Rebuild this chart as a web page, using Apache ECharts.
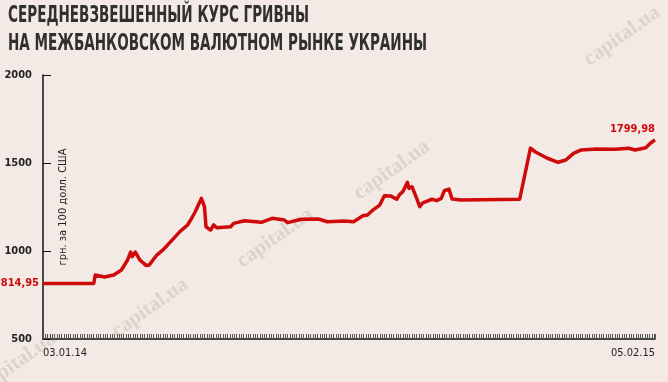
<!DOCTYPE html>
<html>
<head>
<meta charset="utf-8">
<script src="https://cdn.jsdelivr.net/npm/echarts@6/dist/echarts.min.js"></script>
<style>
html,body{margin:0;padding:0;background:#f3eae5;}
#c{width:668px;height:382px;}
</style>
</head>
<body>
<div id="c"></div>
<script>
const titleLines = ['СЕРЕДНЕВЗВЕШЕННЫЙ КУРС ГРИВНЫ', 'НА МЕЖБАНКОВСКОМ ВАЛЮТНОМ РЫНКЕ УКРАИНЫ'];
const yAxisName = 'грн. за 100 долл. США';
const xTickLabels = ['03.01.14', '05.02.15'];
const yTicks = [500, 1000, 1500, 2000];
const pointLabels = ['814,95', '1799,98'];
const dates = [
 '2014-01-03','2014-02-05','2014-02-06','2014-02-12','2014-02-18','2014-02-23','2014-02-27','2014-03-01','2014-03-02','2014-03-04',
 '2014-03-07','2014-03-11','2014-03-13','2014-03-18','2014-03-22','2014-03-29','2014-04-02','2014-04-07','2014-04-09','2014-04-12',
 '2014-04-14','2014-04-16','2014-04-18','2014-04-19','2014-04-22','2014-04-24','2014-04-26','2014-05-05','2014-05-07','2014-05-14',
 '2014-05-25','2014-06-01','2014-06-09','2014-06-11','2014-06-20','2014-07-01','2014-07-07','2014-07-18','2014-07-24','2014-07-30',
 '2014-08-02','2014-08-05','2014-08-10','2014-08-13','2014-08-17','2014-08-21','2014-08-23','2014-08-25','2014-08-28','2014-08-29',
 '2014-08-31','2014-09-03','2014-09-05','2014-09-07','2014-09-13','2014-09-16','2014-09-19','2014-09-21','2014-09-24','2014-09-26',
 '2014-10-02','2014-11-09','2014-11-16','2014-11-19','2014-11-27','2014-12-04','2014-12-09','2014-12-14','2014-12-19','2014-12-29',
 '2014-12-30','2015-01-10','2015-01-19','2015-01-23','2015-01-30','2015-02-02','2015-02-05'
];
const values = [
 814.95, 815, 864, 852, 864, 892, 949, 994, 968, 994,
 949, 918, 920, 977, 1006, 1072, 1110, 1148, 1176, 1223,
 1261, 1299, 1252, 1138, 1119, 1148, 1132, 1138, 1157, 1172,
 1163, 1186, 1176, 1161, 1180, 1182, 1166, 1170, 1166, 1200,
 1205, 1229, 1261, 1314, 1313, 1294, 1322, 1337, 1390, 1356,
 1365, 1299, 1252, 1274, 1294, 1286, 1299, 1343, 1352, 1295,
 1290, 1294, 1584, 1564, 1527, 1504, 1517, 1555, 1574, 1580,
 1570, 1578, 1584, 1574, 1587, 1612, 1631
];

const FONT = "'DejaVu Sans Condensed', 'Roboto', sans-serif";
const start = Date.parse(dates[0]);
const endDay = Math.round((Date.parse(dates[dates.length - 1]) - start) / 86400000);
const data = dates.map((d, i) => {
  const item = { value: [Math.round((Date.parse(d) - start) / 86400000), values[i]] };
  if (i === 0) item.label = { show: true, position: 'left', distance: 4, formatter: pointLabels[0] };
  if (i === dates.length - 1) item.label = { show: true, position: 'top', distance: 5, align: 'right', offset: [12, 0], formatter: pointLabels[1] };
  return item;
});

const wm = [[275, 238], [392, 170], [150, 308], [622, 36], [18, 362]];
const chart = echarts.init(document.getElementById('c'), null, { renderer: 'canvas' });
chart.setOption({
  backgroundColor: '#f3eae5',
  animation: false,
  graphic: [
    ...wm.map(p => ({
      type: 'text', x: p[0], y: p[1], rotation: 0.62, z: 0, silent: true,
      style: { text: 'capital.ua', fill: 'rgba(160,150,145,0.28)', font: "bold 21px 'Liberation Serif', serif", align: 'center', verticalAlign: 'middle' }
    })),
    { type: 'text', x: 8, y: 5, scaleX: 0.655, z: 10,
      style: { text: titleLines[0], fill: '#303030', font: "bold 23px " + FONT } },
    { type: 'text', x: 8, y: 33, scaleX: 0.655, z: 10,
      style: { text: titleLines[1], fill: '#303030', font: "bold 23px " + FONT } }
  ],
  grid: { left: 43, right: 13, top: 75, bottom: 43, containLabel: false, outerBoundsMode: 'none' },
  xAxis: {
    type: 'value', min: 0, max: endDay, interval: 1.5,
    axisLine: { show: true, lineStyle: { color: '#111', width: 1.5 } },
    axisTick: { show: true, inside: true, length: 5, lineStyle: { color: '#555', width: 1 } },
    splitLine: { show: false },
    axisLabel: {
      show: true, showMinLabel: true, showMaxLabel: true, margin: 9,
      alignMinLabel: 'left', alignMaxLabel: 'right',
      color: '#222', fontFamily: FONT, fontSize: 11,
      formatter: v => (v === 0 ? xTickLabels[0] : (Math.abs(v - endDay) < 0.01 ? xTickLabels[1] : ''))
    }
  },
  yAxis: {
    type: 'value', min: yTicks[0], max: yTicks[yTicks.length - 1], interval: 500,
    name: yAxisName, nameLocation: 'middle', nameRotate: 90, nameGap: -26, nameMoveOverlap: false,
    nameTextStyle: { color: '#222', fontFamily: FONT, fontSize: 11 },
    axisLine: { show: true, lineStyle: { color: '#111', width: 1.5 } },
    axisTick: { show: true, inside: true, length: 8, lineStyle: { color: '#111', width: 1 } },
    splitLine: { show: false },
    axisLabel: { color: '#222', fontFamily: FONT, fontSize: 11, fontWeight: 'bold', margin: 11, formatter: v => String(v) }
  },
  series: [{
    type: 'line', data: data, showSymbol: true, showAllSymbol: true, symbol: 'circle', symbolSize: 0, z: 5,
    lineStyle: { color: '#cf0a0a', width: 3.5, join: 'round' },
    itemStyle: { color: '#cf0a0a' },
    label: { show: false, color: '#cf0a0a', fontFamily: FONT, fontSize: 11, fontWeight: 'bold' },
    labelLayout: { hideOverlap: false }
  }]
});
</script>
</body>
</html>
